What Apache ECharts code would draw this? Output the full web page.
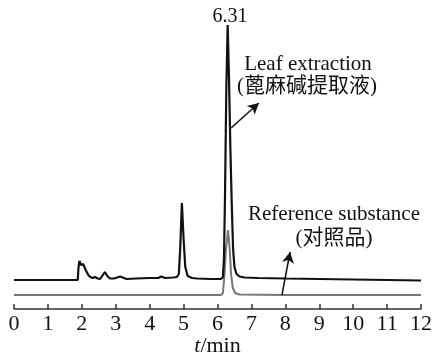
<!DOCTYPE html>
<html>
<head>
<meta charset="utf-8">
<script src="https://cdn.jsdelivr.net/npm/echarts@6/dist/echarts.min.js"></script>
<style>
  html, body { margin: 0; padding: 0; background: #fff; }
  #main { width: 432px; height: 353px; }
</style>
</head>
<body>
<div id="main"></div>
<script>
// retention time (min) and detector signal
var leafTime = [0, 1.5, 1.88, 1.90, 1.93, 1.98, 2.04, 2.10, 2.19, 2.25, 2.32, 2.39, 2.47, 2.54, 2.62, 2.68, 2.75, 2.83, 2.95, 3.13, 3.32, 3.6, 4.0, 4.25, 4.34, 4.45, 4.70, 4.80, 4.86, 4.90, 4.95, 5.00, 5.05, 5.12, 5.25, 5.4, 5.8, 6.10, 6.16, 6.19, 6.22, 6.26, 6.30, 6.34, 6.38, 6.42, 6.46, 6.50, 6.56, 6.65, 6.8, 7.2, 8, 9, 10, 11, 12];
var leafSignal = [29, 29, 29, 41, 48, 44, 45, 40, 34, 32, 31, 32, 30.5, 30, 34, 37, 33, 30.5, 30.5, 32.5, 30, 30.5, 31, 31, 32.5, 31, 31.5, 32, 35, 60, 106, 70, 42, 33, 31, 30.5, 30, 30, 32, 50, 110, 220, 284, 230, 160, 105, 60, 42, 35, 32.5, 31.5, 31, 30.5, 30, 29.5, 29, 28.5];
var refTime = [0, 2, 4, 6.10, 6.16, 6.20, 6.25, 6.31, 6.36, 6.40, 6.45, 6.52, 6.65, 8, 10, 12];
var refSignal = [14, 14, 14, 14, 16, 32, 60, 79, 60, 35, 21, 16, 14.5, 14, 14, 14];
var xTicks = [0, 1, 2, 3, 4, 5, 6, 7, 8, 9, 10, 11, 12];

var serif = "'Liberation Serif', 'DejaVu Serif', 'Noto Sans CJK SC', serif";
var cjk = "'Liberation Serif', 'Noto Sans CJK SC', serif";

function pairs(t, v) {
  return t.map(function (x, i) { return [x, v[i]]; });
}

var chartDom = document.getElementById('main');
var myChart = echarts.init(chartDom);
var option = {
  animation: false,
  backgroundColor: '#fff',
  grid: { left: 14, right: 11, top: 20, bottom: 44, containLabel: false, outerBoundsMode: 'none' },
  xAxis: {
    type: 'value',
    min: xTicks[0],
    max: xTicks[xTicks.length - 1],
    interval: 1,
    name: '{i|t}/min',
    nameLocation: 'middle',
    nameGap: 26,
    nameMoveOverlap: false,
    nameTextStyle: {
      fontFamily: serif, fontSize: 22, color: '#111',
      rich: { i: { fontFamily: serif, fontStyle: 'italic', fontSize: 22, color: '#111' } }
    },
    axisLine: { lineStyle: { color: '#333', width: 1.5 } },
    axisTick: { inside: true, length: 5, lineStyle: { color: '#333', width: 1.5 } },
    axisLabel: { fontFamily: serif, fontSize: 22, color: '#111', margin: 4 },
    splitLine: { show: false }
  },
  yAxis: {
    type: 'value', min: 0, max: 289, show: false, splitLine: { show: false }
  },
  series: [
    {
      name: 'Reference substance',
      type: 'line',
      data: pairs(refTime, refSignal),
      symbol: 'none',
      lineStyle: { color: '#777', width: 2 },
      z: 2,
      markLine: {
        silent: true,
        symbol: ['none', 'arrow'],
        symbolSize: [9, 11],
        label: { show: false },
        lineStyle: { color: '#111', width: 1.5, type: 'solid' },
        data: [[{ coord: [7.90, 14] }, { coord: [8.14, 57] }]]
      }
    },
    {
      name: 'Leaf extraction',
      type: 'line',
      data: pairs(leafTime, leafSignal),
      symbol: 'none',
      lineStyle: { color: '#111', width: 2.2 },
      z: 3,
      markLine: {
        silent: true,
        symbol: ['none', 'arrow'],
        symbolSize: [9, 11],
        label: { show: false },
        lineStyle: { color: '#111', width: 1.5, type: 'solid' },
        data: [[{ coord: [6.40, 181] }, { coord: [7.22, 206] }]]
      }
    }
  ],
  graphic: [
    { type: 'text', x: 230, y: 17, style: { text: '6.31', font: '20px ' + serif, fill: '#111', textAlign: 'center', textVerticalAlign: 'middle' } },
    { type: 'text', x: 308, y: 64, style: { text: 'Leaf extraction', font: '21px ' + serif, fill: '#111', textAlign: 'center', textVerticalAlign: 'middle' } },
    { type: 'text', x: 307, y: 86, style: { text: '(蓖麻碱提取液)', font: '21px ' + cjk, fill: '#111', textAlign: 'center', textVerticalAlign: 'middle' } },
    { type: 'text', x: 334, y: 214, style: { text: 'Reference substance', font: '21px ' + serif, fill: '#111', textAlign: 'center', textVerticalAlign: 'middle' } },
    { type: 'text', x: 334, y: 238, style: { text: '(对照品)', font: '21px ' + cjk, fill: '#111', textAlign: 'center', textVerticalAlign: 'middle' } }
  ]
};
option && myChart.setOption(option);
</script>
</body>
</html>
